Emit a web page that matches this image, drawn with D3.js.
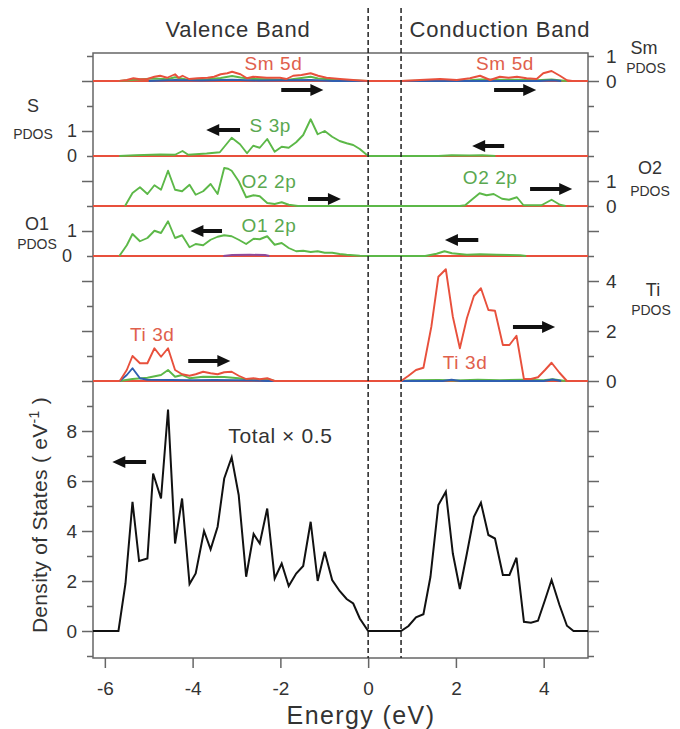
<!DOCTYPE html>
<html>
<head>
<meta charset="utf-8">
<script src="https://cdnjs.cloudflare.com/ajax/libs/d3/7.8.5/d3.min.js"></script>
<style>
  body { margin: 0; background: #fff; }
  text { font-family: "Liberation Sans", Arial, sans-serif; fill: #333; }
</style>
</head>
<body>
<svg id="chart" width="680" height="729"></svg>
<script>
'use strict';

// Total DOS (x0.5), [energy eV, states/eV]
var totalDos = [[-6.27,0],[-5.69,0],[-5.53,1.9],[-5.37,5.17],[-5.22,2.8],[-5.03,2.9],[-4.90,6.3],[-4.72,5.3],
  [-4.56,8.86],[-4.40,3.5],[-4.24,5.3],[-4.07,1.88],[-3.93,2.3],[-3.74,4.0],[-3.59,3.27],[-3.43,4.17],
  [-3.28,6.1],[-3.11,6.95],[-2.95,5.44],[-2.78,2.17],[-2.61,3.88],[-2.47,3.5],[-2.30,4.9],[-2.13,2.1],
  [-1.97,2.7],[-1.81,1.8],[-1.64,2.3],[-1.48,2.6],[-1.31,4.37],[-1.15,2.0],[-0.99,3.17],[-0.82,2.04],
  [-0.65,1.6],[-0.49,1.28],[-0.34,1.1],[-0.19,0.5],[0,0],[0.75,0],[0.92,0.2],[1.09,0.55],[1.26,0.67],
  [1.42,2.17],[1.60,5.04],[1.77,5.57],[1.93,3.1],[2.09,1.68],[2.25,3.1],[2.41,4.57],[2.57,5.13],
  [2.74,3.84],[2.89,3.7],[3.07,2.24],[3.22,2.24],[3.38,2.93],[3.55,0.37],[3.71,0.33],[3.87,0.41],
  [4.03,1.24],[4.18,2.04],[4.36,1.04],[4.53,0.21],[4.68,0],[5.01,0]];

// Ti PDOS
var tiD = [[-5.66,0],[-5.50,0.44],[-5.37,1.0],[-5.20,0.71],[-5.03,0.71],[-4.87,1.31],[-4.72,0.97],[-4.56,1.31],
  [-4.40,0.44],[-4.24,0.27],[-4.07,0.21],[-3.93,0.27],[-3.76,0.37],[-3.59,0.31],[-3.43,0.27],[-3.28,0.35],
  [-3.11,0.37],[-2.95,0.21],[-2.78,0.08],[-2.61,0.11],[-2.47,0.07],[-2.30,0.11],[-2.13,0],[0.75,0],
  [0.92,0.21],[1.09,0.44],[1.26,0.53],[1.44,2.17],[1.60,4.17],[1.77,4.47],[1.93,2.57],[2.09,1.31],
  [2.25,2.51],[2.41,3.4],[2.57,3.71],[2.74,2.84],[2.89,2.81],[3.07,1.44],[3.22,1.44],[3.38,1.81],
  [3.55,0.08],[3.71,0.08],[3.87,0.15],[4.03,0.44],[4.18,0.73],[4.36,0.33],[4.53,0]];
var tiP = [[-5.66,0],[-5.37,0.08],[-5.03,0.13],[-4.72,0.24],[-4.56,0.44],[-4.40,0.17],[-4.24,0.24],[-4.07,0.11],
  [-3.76,0.17],[-3.28,0.16],[-2.95,0.11],[-2.61,0.03],[-2.30,0.08],[-2.13,0],[0.75,0],[1.0,0.03],[1.6,0.04],
  [2.0,0.02],[2.5,0.05],[3.0,0.03],[3.5,0.05],[4.0,0.03],[4.2,0.07],[4.5,0]];
var tiS = [[-5.66,0],[-5.50,0.24],[-5.37,0.51],[-5.20,0.11],[-5.03,0.05],[-4.5,0.04],[-4.0,0.03],[-3.5,0.04],
  [-3.0,0.03],[-2.6,0.02],[-2.3,0],[1.7,0],[1.9,0.05],[2.1,0],[4.0,0],[4.2,0.06],[4.4,0]];

// O1 PDOS
var o1P = [[-5.67,0],[-5.50,0.43],[-5.37,0.88],[-5.20,0.59],[-5.03,0.72],[-4.87,1.01],[-4.72,0.92],[-4.56,1.39],
  [-4.40,0.72],[-4.24,0.83],[-4.07,0.35],[-3.93,0.48],[-3.76,0.43],[-3.59,0.65],[-3.43,0.77],[-3.28,0.83],
  [-3.11,0.79],[-2.95,0.65],[-2.78,0.48],[-2.61,0.69],[-2.47,0.67],[-2.30,0.79],[-2.13,0.45],[-1.97,0.52],
  [-1.81,0.32],[-1.64,0.19],[-1.48,0.21],[-1.31,0.16],[-1.15,0.19],[-0.99,0.13],[-0.82,0.13],[-0.65,0.08],
  [-0.49,0.05],[-0.19,0.01],[0,0],[1.3,0],[1.56,0.09],[1.74,0.19],[1.91,0.11],[2.25,0.05],[2.55,0.07],
  [2.93,0.05],[3.46,0.03],[3.6,0]];
var o1S = [[-3.3,0],[-3.1,0.04],[-2.7,0.05],[-2.35,0.04],[-2.25,0]];

// O2 PDOS
var o2P = [[-5.54,0],[-5.37,0.52],[-5.20,0.75],[-5.03,0.48],[-4.87,0.83],[-4.72,0.65],[-4.56,1.41],[-4.40,0.65],
  [-4.24,0.59],[-4.07,0.85],[-3.93,0.45],[-3.76,0.59],[-3.59,0.88],[-3.43,0.48],[-3.28,1.52],[-3.19,1.49],
  [-3.11,1.41],[-2.95,0.99],[-2.78,0.35],[-2.61,0.43],[-2.47,0.39],[-2.30,0.12],[-2.13,0.08],[-1.97,0.15],
  [-1.81,0.05],[-1.6,0],[2.09,0],[2.21,0.03],[2.36,0.25],[2.54,0.51],[2.70,0.43],[2.86,0.48],[3.05,0.29],
  [3.21,0.25],[3.39,0.35],[3.54,0.03],[3.95,0.03],[4.18,0.25],[4.37,0.05],[4.5,0]];

// S PDOS
var sP = [[-5.67,0],[-5.3,0.03],[-4.74,0.06],[-4.4,0.05],[-4.23,0.2],[-4.1,0.05],[-3.68,0.1],[-3.38,0.15],
  [-3.11,0.73],[-2.92,0.47],[-2.76,0.11],[-2.62,0.41],[-2.47,0.33],[-2.30,0.68],[-2.13,0.17],[-1.97,0.37],
  [-1.81,0.33],[-1.64,0.55],[-1.48,0.84],[-1.31,1.47],[-1.15,0.87],[-0.99,1.0],[-0.82,0.77],[-0.65,0.6],
  [-0.49,0.51],[-0.34,0.44],[-0.19,0.28],[0,0],[1.6,0],[1.9,0.03],[2.3,0.02],[2.6,0.03],[2.9,0]];

// Sm PDOS
var smD = [[-5.67,0],[-5.5,0.04],[-5.35,0.11],[-5.2,0.07],[-5.03,0.08],[-4.87,0.17],[-4.74,0.21],[-4.58,0.13],
  [-4.40,0.27],[-4.32,0.13],[-4.23,0.21],[-4.08,0.08],[-3.89,0.11],[-3.66,0.13],[-3.51,0.17],[-3.36,0.27],
  [-3.21,0.31],[-3.10,0.37],[-2.91,0.27],[-2.76,0.11],[-2.62,0.17],[-2.31,0.13],[-2.01,0.13],[-1.86,0.08],
  [-1.71,0.21],[-1.52,0.24],[-1.31,0.31],[-1.14,0.21],[-0.95,0.13],[-0.64,0.08],[-0.34,0.04],[0,0],
  [0.75,0],[1.18,0.04],[1.64,0.08],[2.02,0.04],[2.32,0.11],[2.55,0.21],[2.78,0.04],[3.0,0.17],[3.2,0.13],
  [3.39,0.17],[3.61,0.11],[3.84,0.08],[3.99,0.31],[4.18,0.4],[4.37,0.21],[4.53,0.03],[4.65,0]];
var smP = [[-5.67,0],[-5.35,0.05],[-4.87,0.1],[-4.58,0.07],[-4.40,0.15],[-4.08,0.04],[-3.66,0.07],[-3.36,0.12],
  [-3.10,0.2],[-2.91,0.14],[-2.62,0.08],[-2.31,0.07],[-1.86,0.04],[-1.52,0.12],[-1.31,0.17],[-1.14,0.1],
  [-0.64,0.04],[0,0],[0.75,0],[2.32,0.03],[2.55,0.06],[3.0,0.05],[3.39,0.05],[3.84,0.03],[4.18,0.06],[4.53,0]];
var smS = [[-5.0,0],[-4.4,0.04],[-3.8,0.02],[-3.1,0.05],[-2.5,0.02],[-1.3,0.04],[-0.8,0],[3.9,0],[4.2,0.03],[4.4,0]];

// band edges (eV) and axis ticks
var bandEdges = [0, 0.75];
var energyTicks = [-6, -4, -2, 0, 2, 4];

var RED = '#e8503c', GREEN = '#5cb848', BLUE = '#2f5fb0', PURPLE = '#8c4a9c';

var svg = d3.select('#chart');

var x = d3.scaleLinear().domain([-6.27, 5.01]).range([93, 588]);
// one stacked scale, each PDOS panel sits on its own offset
var y = d3.scaleLinear().domain([-1.08, 23.12]).range([658, 53]);

var panels = [
  { base: 22, series: [[smP, GREEN], [smS, BLUE], [smD, RED]] },
  { base: 19, series: [[sP, GREEN]] },
  { base: 17, series: [[o2P, GREEN]] },
  { base: 15, series: [[o1S, PURPLE], [o1P, GREEN]] },
  { base: 10, series: [[tiP, GREEN], [tiS, BLUE], [tiD, RED]] }
];

function lineAt(base) {
  return d3.line()
    .x(function(d) { return x(d[0]); })
    .y(function(d) { return y(base + d[1]); });
}

// frame
svg.append('rect')
  .attr('x', x.range()[0]).attr('y', y.range()[1])
  .attr('width', x.range()[1] - x.range()[0])
  .attr('height', y.range()[0] - y.range()[1])
  .attr('fill', 'none').attr('stroke', '#666').attr('stroke-width', 1.5);

// PDOS panels
panels.forEach(function(p) {
  svg.append('line')
    .attr('x1', x.range()[0]).attr('x2', x.range()[1])
    .attr('y1', y(p.base)).attr('y2', y(p.base))
    .attr('stroke', RED).attr('stroke-width', 2);
  p.series.forEach(function(s) {
    svg.append('path')
      .datum(s[0])
      .attr('d', lineAt(p.base))
      .attr('fill', 'none')
      .attr('stroke', s[1])
      .attr('stroke-width', 1.9)
      .attr('stroke-linejoin', 'round');
  });
});

// total DOS
svg.append('path')
  .datum(totalDos)
  .attr('d', lineAt(0))
  .attr('fill', 'none')
  .attr('stroke', '#111')
  .attr('stroke-width', 2)
  .attr('stroke-linejoin', 'miter');

// band edge dashed lines
svg.selectAll('line.edge')
  .data(bandEdges)
  .enter().append('line')
  .attr('class', 'edge')
  .attr('x1', function(d) { return x(d); })
  .attr('x2', function(d) { return x(d); })
  .attr('y1', 8).attr('y2', y.range()[0])
  .attr('stroke', '#222').attr('stroke-width', 1.5)
  .attr('stroke-dasharray', '5,3');

// left axis
var leftLabels = { 0: '0', 2: '2', 4: '4', 6: '6', 8: '8', 15: '0', 16: '1', 19: '0', 20: '1' };
var gl = svg.append('g')
  .attr('transform', 'translate(' + x.range()[0] + ',0)')
  .call(d3.axisLeft(y).tickValues(d3.range(-1, 24)).tickSize(11).tickPadding(5)
    .tickFormat(function(d) { return leftLabels[d] || ''; }));
gl.select('.domain').remove();
gl.selectAll('.tick line')
  .attr('x2', function(d) { return d % 2 === 0 ? -11 : -6; })
  .attr('stroke', '#666').attr('stroke-width', 1.5);
gl.selectAll('.tick text')
  .attr('font-family', '"Liberation Sans", Arial, sans-serif')
  .attr('font-size', function(d) { return d < 10 ? 19 : 18; })
  .attr('fill', '#333')
  .attr('dx', function(d) { return d === 15 ? -5 : 0; });

// right axis
var rightLabels = { 10: '0', 12: '2', 14: '4', 17: '0', 18: '1', 22: '0', 23: '1' };
var gr = svg.append('g')
  .attr('transform', 'translate(' + x.range()[1] + ',0)')
  .call(d3.axisRight(y).tickValues(d3.range(-1, 24)).tickSize(11).tickPadding(7)
    .tickFormat(function(d) { return rightLabels[d] || ''; }));
gr.select('.domain').remove();
gr.selectAll('.tick line')
  .attr('x2', function(d) { return d % 2 === 0 ? 11 : 6; })
  .attr('stroke', '#666').attr('stroke-width', 1.5);
gr.selectAll('.tick text')
  .attr('font-family', '"Liberation Sans", Arial, sans-serif')
  .attr('font-size', 19)
  .attr('fill', '#333');

// bottom axis
var gb = svg.append('g')
  .attr('transform', 'translate(0,' + y.range()[0] + ')')
  .call(d3.axisBottom(x).tickValues(energyTicks).tickSize(10).tickPadding(14)
    .tickFormat(function(d) { return String(d); }));
gb.select('.domain').remove();
gb.selectAll('.tick line').attr('stroke', '#666').attr('stroke-width', 1.5);
gb.selectAll('.tick text')
  .attr('font-family', '"Liberation Sans", Arial, sans-serif')
  .attr('font-size', 19)
  .attr('fill', '#333');

function addText(px, py, str, size, color, anchor, spacing) {
  return svg.append('text')
    .attr('x', px).attr('y', py)
    .attr('font-size', size)
    .attr('text-anchor', anchor || 'middle')
    .attr('letter-spacing', spacing || 0)
    .style('fill', color || '#333')
    .text(str);
}

// headers and titles
addText(238, 37, 'Valence Band', 22, '#333', 'middle', 0.8);
addText(500, 37, 'Conduction Band', 22, '#333', 'middle', 0.8);
addText(361, 724, 'Energy (eV)', 25, '#333', 'middle', 1.4);

var yt = svg.append('text')
  .attr('transform', 'translate(47,515) rotate(-90)')
  .attr('text-anchor', 'middle')
  .attr('font-size', 21)
  .attr('letter-spacing', 0.3);
yt.append('tspan').text('Density of States ( eV');
yt.append('tspan').attr('dy', -8).attr('font-size', 14).text('-1');
yt.append('tspan').attr('dy', 8).text(' )');

// panel names
addText(644, 54, 'Sm', 18);
addText(646, 73, 'PDOS', 14);
addText(650, 174, 'O2', 18);
addText(650, 196, 'PDOS', 14);
addText(653, 296, 'Ti', 18);
addText(651, 315, 'PDOS', 14);
addText(33, 112, 'S', 18);
addText(33, 139, 'PDOS', 14);
addText(37, 230, 'O1', 18);
addText(37, 249, 'PDOS', 14);

// curve labels, placed in data units
var curveLabels = [
  { e: -2.16, v: 22.44, t: 'Sm 5d', c: '#e0604c', s: 19 },
  { e: 3.12, v: 22.44, t: 'Sm 5d', c: '#e0604c', s: 19 },
  { e: -2.23, v: 19.96, t: 'S 3p', c: '#5aa850', s: 19 },
  { e: -2.26, v: 17.72, t: 'O2 2p', c: '#5aa850', s: 19 },
  { e: 2.78, v: 17.88, t: 'O2 2p', c: '#5aa850', s: 19 },
  { e: -2.26, v: 15.96, t: 'O1 2p', c: '#5aa850', s: 19 },
  { e: -4.92, v: 11.6, t: 'Ti 3d', c: '#e0604c', s: 19 },
  { e: 2.21, v: 10.48, t: 'Ti 3d', c: '#e0604c', s: 19 },
  { e: -2.0, v: 7.52, t: 'Total \u00d7 0.5', c: '#333', s: 21 }
];
curveLabels.forEach(function(l) {
  addText(x(l.e), y(l.v), l.t, l.s, l.c, 'middle', 0.6);
});

// spin/transfer arrows
var arrows = [
  [-1.98, -1.02, 21.64], [2.87, 3.83, 21.64],
  [-2.92, -3.69, 20.04], [3.10, 2.37, 19.4],
  [-1.37, -0.62, 17.28], [3.69, 4.65, 17.68],
  [-3.33, -4.05, 16.0], [2.51, 1.75, 15.64],
  [-4.10, -3.14, 10.8], [3.30, 4.26, 12.16],
  [-5.06, -5.83, 6.76]
];
arrows.forEach(function(a) {
  var x0 = x(a[0]), x1 = x(a[1]), cy = y(a[2]);
  var dir = x1 > x0 ? 1 : -1;
  var xb = x1 - dir * 13;
  var pts = [[x0, cy - 2], [xb, cy - 2], [xb, cy - 6], [x1, cy], [xb, cy + 6], [xb, cy + 2], [x0, cy + 2]];
  svg.append('path')
    .attr('d', 'M' + pts.join('L') + 'Z')
    .attr('fill', '#111');
});
</script>
</body>
</html>
